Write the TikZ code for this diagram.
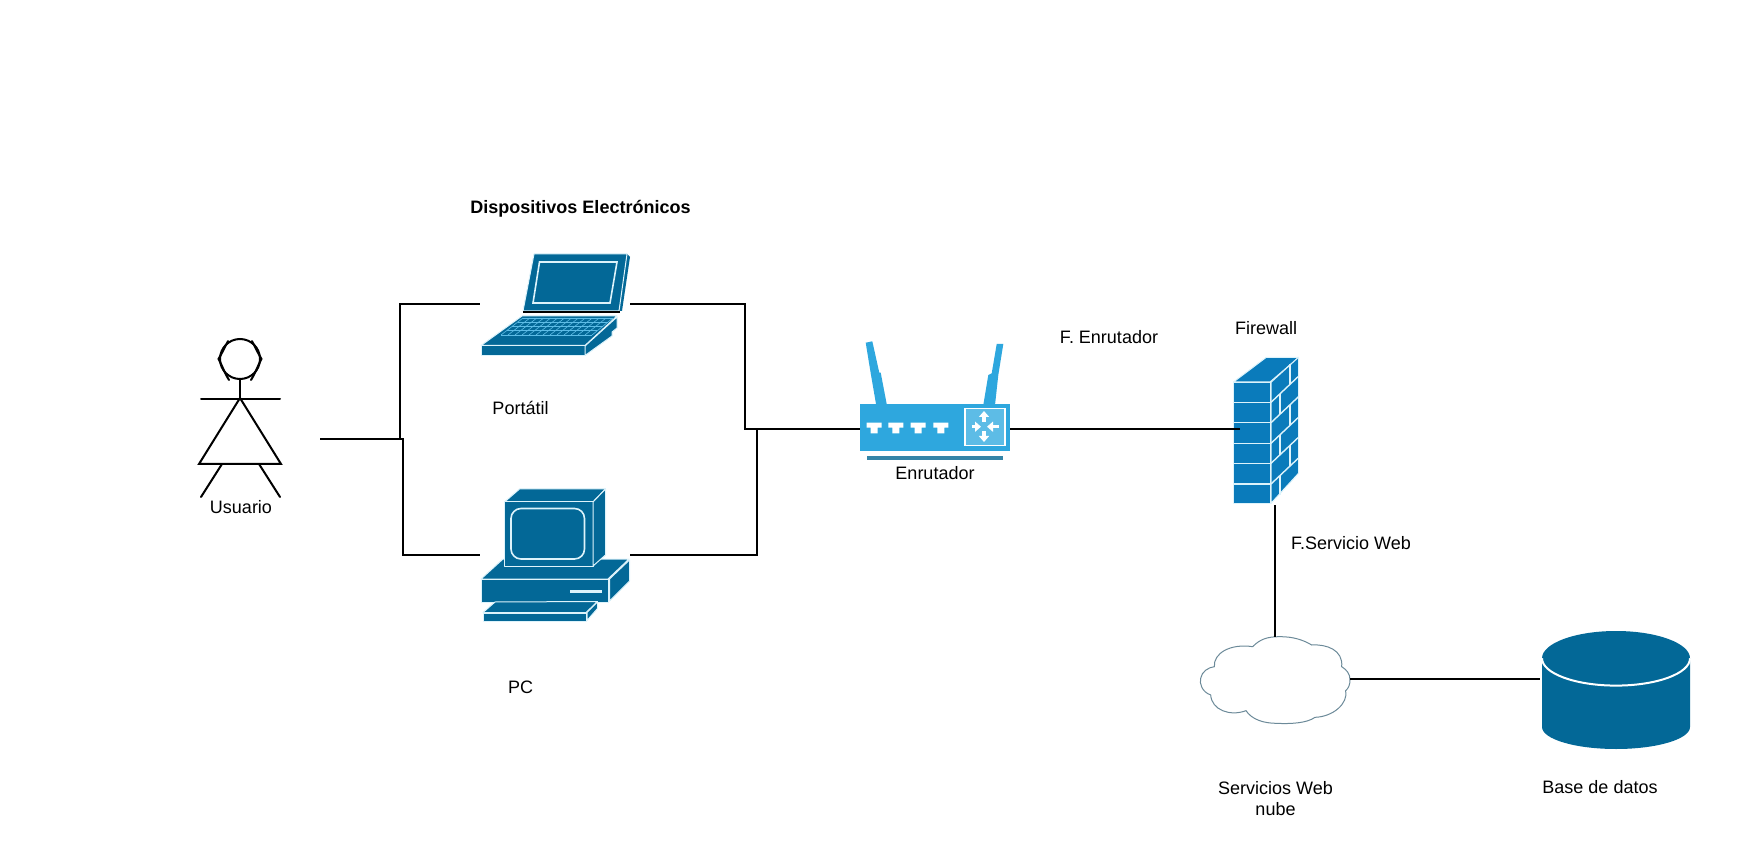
\documentclass[tikz,border=0pt]{standalone}
\usepackage{fontspec}
\setmainfont{Liberation Sans}
\usetikzlibrary{calc,arrows.meta}
\definecolor{azulicono}{HTML}{036897}
\definecolor{azulrouter}{HTML}{2EA7DE}
\definecolor{azulpanel}{HTML}{5DBCE6}
\definecolor{azulbarra}{HTML}{3585A8}
\definecolor{azulmuro}{HTML}{0A7BBB}
\definecolor{bordenube}{HTML}{6C8A99}
\definecolor{lineaclara}{HTML}{DDF3FB}
\tikzset{
  linea/.style={line width=1pt,black},
  persona/.style={line width=1pt,black,line cap=round},
  caja/.style={inner sep=0pt,outer sep=0pt},
  etiqueta/.style={font=\fontsize{9}{10.5}\selectfont,align=center,inner sep=0pt},
  pieza/.style={fill=azulicono,draw=lineaclara,line width=0.5pt,line join=round},
  ladrillo/.style={fill=azulmuro,draw=lineaclara,line width=0.5pt,line join=round},
  junta/.style={draw=lineaclara,line width=0.7pt},
  flecha/.style={white,line width=1.7pt,-{Triangle[length=3pt,width=5pt]}},
}
\begin{document}
\begin{tikzpicture}[x=0.5pt,y=-0.5pt]
\useasboundingbox (0,0) rectangle (1760,860);
% cajas de los iconos
\node[caja,minimum width=80pt,minimum height=80pt] (usuario) at (240,439.5) {};
\node[caja,minimum width=75pt,minimum height=52pt] (portatil) at (555,304.5) {};
\node[caja,minimum width=75pt,minimum height=68pt] (pc) at (555,554.5) {};
\node[caja,minimum width=75pt,minimum height=60pt] (enrutador) at (935,429.5) {};
\node[caja,minimum width=35pt,minimum height=76pt] (firewall) at (1275,429.5) {};
\node[caja,minimum width=75pt,minimum height=42pt] (nube) at (1275,679) {};
\node[caja,minimum width=75pt,minimum height=60pt] (basedatos) at (1615,679) {};
% usuario
\draw[persona] (240,359) ellipse (20 and 20);
\draw[persona] (228,341) .. controls (224,349) and (222,353) .. (218.5,359) .. controls (222,365) and (224,372) .. (229,380);
\draw[persona] (252,341) .. controls (256,349) and (258,353) .. (261.5,359) .. controls (258,365) and (256,372) .. (251,380);
\draw[persona] (240,379) -- (240,398);
\draw[persona] (201,399) -- (280,399);
\draw[persona,line join=miter] (240,398) -- (281,464) -- (199,464) -- cycle;
\draw[persona] (222,464) -- (201,497);
\draw[persona] (259,464) -- (280,497);
% portatil
\fill[azulicono] (627,254) -- (630,257) -- (622,311) -- (619,311) -- cycle;
\draw[pieza] (534,254) -- (627,254) -- (619,311) -- (523,311) -- cycle;
\draw[junta,line width=0.8pt] (539.5,262) -- (617,262) -- (610,303) -- (533,303) -- cycle;
\draw[black,line width=0.7pt] (523,312) -- (620,312);
\draw[pieza] (522,316) -- (617,316) -- (585,345.5) -- (481,345.5) -- cycle;
\draw[pieza] (481,346) -- (585,346) -- (585,355.5) -- (481,355.5) -- cycle;
\draw[pieza] (585,346) -- (617,317) -- (617,328) -- (612,332) -- (612,336) -- (585,355.5) -- cycle;
\coordinate (tecla1) at (523,318);
\coordinate (tecla2) at (613,318);
\coordinate (tecla3) at (592,335);
\coordinate (tecla4) at (501,335);
\foreach \n in {0,...,4}
  \draw[azulpanel,line width=0.3pt] ($(tecla1)!\n/4!(tecla4)$) -- ($(tecla2)!\n/4!(tecla3)$);
\foreach \n in {0,...,13}
  \draw[azulpanel,line width=0.3pt] ($(tecla1)!\n/13!(tecla2)$) -- ($(tecla4)!\n/13!(tecla3)$);
% pc
\draw[pieza] (481,579) -- (503,559) -- (629,559) -- (608,579) -- cycle;
\draw[pieza] (481,579.5) -- (608.5,579.5) -- (608.5,602) -- (481,602) -- cycle;
\draw[pieza] (609.5,579) -- (629.5,560) -- (629.5,581) -- (609.5,601) -- cycle;
\draw[pieza] (504.5,502) -- (519.5,489) -- (605.5,489) -- (593,502) -- cycle;
\draw[pieza] (504.5,502) rectangle (593,566);
\draw[pieza] (593,502) -- (605.5,489) -- (605.5,555) -- (593,566) -- cycle;
\draw[junta,line width=0.8pt,rounded corners=5pt] (511,508.5) rectangle (584.5,559);
\fill[lineaclara] (569.5,590) rectangle (601.5,592.5);
\draw[pieza] (495,602) -- (597.5,601.5) -- (586,612.5) -- (483,612.5) -- cycle;
\draw[pieza] (483,613) rectangle (586,621);
\draw[pieza] (587,612.5) -- (597.5,602) -- (597.5,608.5) -- (587,620.5) -- cycle;
% enrutador
\fill[azulrouter] (865.7,342.7) -- (872.3,341.3) -- (879.3,372.7) -- (880.7,372.7) -- (886.7,404) -- (876,404) -- (870.7,373.3) -- cycle;
\fill[azulrouter] (996.7,344) -- (1003.3,344) -- (998.3,375) -- (995,405) -- (983.3,405) -- (988.3,375) -- (991.7,373.3) -- cycle;
\fill[azulrouter] (860,404) rectangle (1010,450.7);
\fill[azulbarra] (866.7,456) rectangle (1002.7,460);
\draw[white,fill=azulpanel,line width=0.6pt] (965,408.5) rectangle (1005,445.5);
\foreach \px in {866.7,888.3,910.7,933.3}
  \fill[white] (\px,422.7) -- ++(15,0) -- ++(0,5) -- ++(-4,0) -- ++(0,5.6) -- ++(-7,0) -- ++(0,-5.6) -- ++(-4,0) -- cycle;
\draw[flecha] (984,422) -- (984,411);
\draw[flecha] (984,431.5) -- (984,442);
\draw[flecha] (971.5,426.7) -- (981,426.7);
\draw[flecha] (998.5,426.7) -- (987,426.7);
% firewall
\draw[ladrillo] (1233.5,382) -- (1266,357.5) -- (1298.5,357.5) -- (1270,382) -- cycle;
\draw[ladrillo] (1233.5,382.3) rectangle (1270,503.3);
\draw[ladrillo] (1271,382.3) -- (1298.5,357.3) -- (1298.5,473.3) -- (1271,503.3) -- cycle;
\foreach \v in {402.3,422.7,443.3,463.3,484} {
  \draw[junta] (1233.5,\v) -- (1270,\v);
  \draw[junta] (1271,\v) -- (1298.5,\v-26);
}
\foreach \u/\va/\vb in {19/382.3/402.3,9/402.3/422.7,19/422.7/443.3,9/443.3/463.3,19/463.3/484,9/484/503.3}
  \draw[junta] ({1271+\u},{\va-0.94*\u}) -- ({1271+\u},{\vb-0.94*\u});
% nube
\begin{scope}[shift={(1180,620)},scale=1/3]
\draw[draw=bordenube,fill=white,line width=0.5pt] (218,80) .. controls (240,58) and (260,50) .. (300,50) .. controls (340,50) and (370,60) .. (395,75)
  .. controls (440,72) and (490,90) .. (485,140) .. controls (500,150) and (510,160) .. (510,180) .. controls (510,195) and (505,205) .. (497,212)
  .. controls (505,250) and (460,290) .. (405,292) .. controls (380,310) and (330,312) .. (290,310) .. controls (250,310) and (215,298) .. (198,272)
  .. controls (150,290) and (95,270) .. (92,225) .. controls (65,215) and (58,190) .. (62,175) .. controls (65,155) and (85,142) .. (103,140)
  .. controls (100,100) and (150,70) .. (218,80) -- cycle;
\end{scope}
% base de datos
\fill[azulicono] (1542,658) -- (1542,727) arc[start angle=180,end angle=360,x radius=74,y radius=-22] -- (1690,658) -- cycle;
\fill[azulicono] (1616,658.3) ellipse (74 and 27.3);
\draw[white,line width=1pt] (1542,658.3) arc[start angle=180,end angle=360,x radius=74,y radius=-27.3];
% conexiones
\coordinate (unionsup) at (400,439.5);
\coordinate (unioninf) at (402.5,439.5);
\coordinate (uniondersup) at (745,429.5);
\coordinate (uniondernf) at (756.5,429.5);
\draw[linea] (usuario.east) -- (unionsup) |- (portatil.west);
\draw[linea] (unionsup) -- (unioninf) |- (pc.west);
\draw[linea] (portatil.east) -| (uniondersup) -- (enrutador.west);
\draw[linea] (pc.east) -| (uniondernf);
\draw[linea] (enrutador.east) -- (firewall.west);
\draw[linea] (firewall.south) -- (nube.north);
\draw[linea] (nube.east) -- (basedatos.west);
% textos
\node[etiqueta,font=\fontsize{9}{10.5}\selectfont\bfseries] (titulo) at (580.5,209) {Dispositivos Electrónicos};
\node[etiqueta] (txtusuario) at (241,507) {Usuario};
\node[etiqueta] (txtportatil) at (520.5,408) {Portátil};
\node[etiqueta] (txtpc) at (520.5,687.5) {PC};
\node[etiqueta] (txtenrutador) at (935,473) {Enrutador};
\node[etiqueta] (txtfenrutador) at (1109,337.5) {F. Enrutador};
\node[etiqueta] (txtfirewall) at (1266,328) {Firewall};
\node[etiqueta] (txtservicio) at (1351,543) {F.Servicio Web};
\node[etiqueta] (txtnube) at (1275.5,798.5) {Servicios Web\\nube};
\node[etiqueta] (txtbase) at (1600,787) {Base de datos};
\end{tikzpicture}
\end{document}
